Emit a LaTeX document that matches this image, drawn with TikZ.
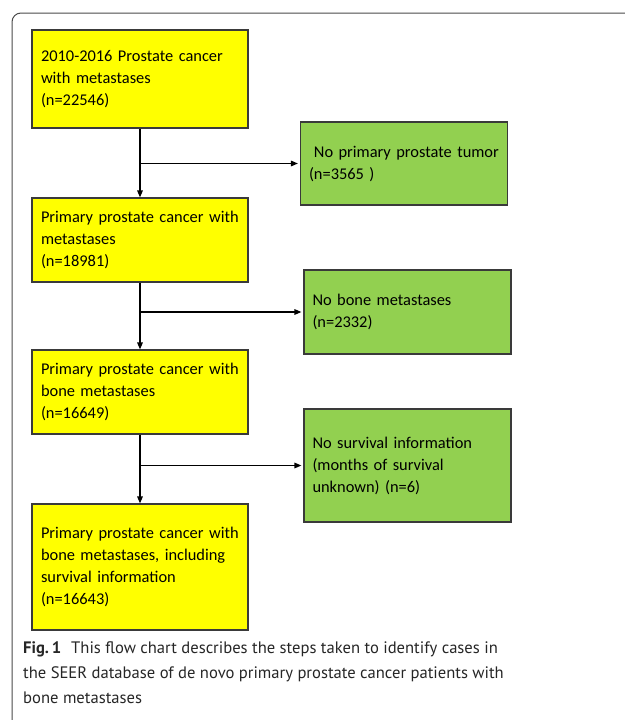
\documentclass[tikz,border=0pt]{standalone}
\usepackage{fontspec}
\setmainfont{Carlito}
\newfontfamily\capfont{PT Sans}
\usepackage{xcolor}
\usetikzlibrary{arrows.meta,positioning,calc}
\definecolor{boxline}{HTML}{3A3A3A}
\definecolor{stepyellow}{HTML}{FFFF00}
\definecolor{exclgreen}{HTML}{92D050}
\definecolor{framegrey}{HTML}{4A4A4A}

\begin{document}
\begin{tikzpicture}[
  x=1pt, y=-1pt,
  font=\fontsize{16.4}{22}\selectfont,
  box/.style={draw=boxline, line width=1.1pt, align=left, inner xsep=8pt,
              inner ysep=0pt, anchor=center},
  stage/.style={box, fill=stepyellow, minimum width=216pt, text width=198pt},
  excl/.style={box, fill=exclgreen, minimum width=207pt, text width=190pt},
  arr/.style={-{Triangle[length=7pt,width=5.5pt]}, line width=1.4pt}
]
\useasboundingbox (0,0) rectangle (624,720);

% outer frame of the figure
\draw[framegrey, line width=1pt, rounded corners=9pt]
  (12,760) -- (12,13) -- (660,13);

% kept cases
\node[stage, minimum height=98pt]  (all)  at (140,79)  {2010-2016 Prostate cancer\\with metastases\\(n=22546)};
\node[stage, minimum height=84pt]  (prim) at (140,240) {Primary prostate cancer with\\metastases\\(n=18981)};
\node[stage, minimum height=84pt]  (bone) at (140,392) {Primary prostate cancer with\\bone metastases\\(n=16649)};
\node[stage, minimum height=126pt] (surv) at (140,567) {Primary prostate cancer with\\bone metastases, including\\survival information\\(n=16643)};

% excluded cases
\node[excl, minimum height=83pt]  (notum)  at (404,163.5) {\hspace*{0.3em}No primary prostate tumor\\(n=3565 )};
\node[excl, minimum height=84pt]  (nobone) at (407.5,312) {No bone metastases\\(n=2332)};
\node[excl, minimum height=113pt] (nosurv) at (407.5,465.5) {No survival information\\(months of survival\\unknown) (n=6)};

\foreach \a/\b/\x in {all/prim/notum, prim/bone/nobone, bone/surv/nosurv} {
  \draw[arr] (\a) -- (\b);
  \draw[arr] (\a.south |- \x.west) -- ([xshift=-2pt]\x.west);
}

% caption
\node[font=\capfont\fontsize{16.6}{25}\selectfont, align=left, anchor=north west, inner sep=0pt, color=black!85]
  (cap) at (23,641)
  {\textbf{Fig.\,1}\hspace{0.6em}This flow chart describes the steps taken to identify cases in\\
   the SEER database of de novo primary prostate cancer patients with\\
   bone metastases};

\end{tikzpicture}
\end{document}
